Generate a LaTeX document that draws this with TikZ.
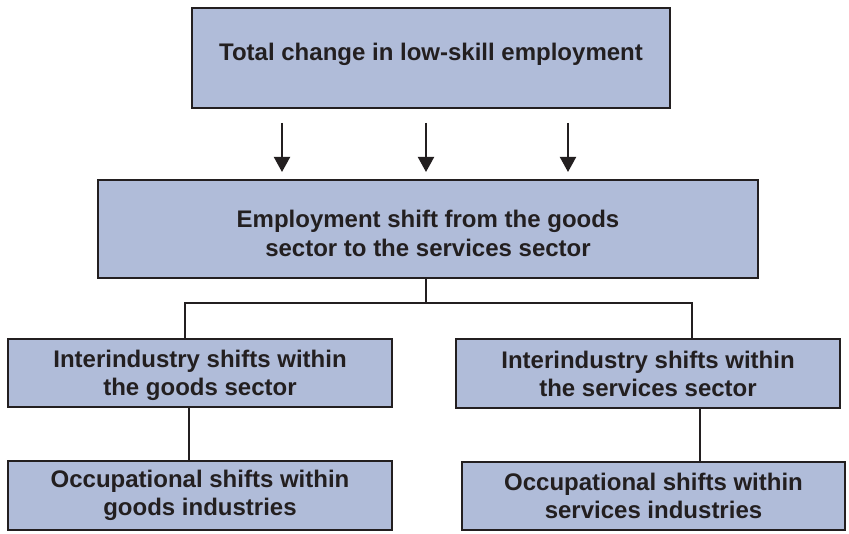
\documentclass[tikz,border=0pt]{standalone}
\usepackage{fontspec}
\setmainfont{Liberation Sans}
\usetikzlibrary{arrows.meta}
\definecolor{boxfill}{HTML}{B0BCD9}
\definecolor{ink}{HTML}{231F20}
\begin{document}
\begin{tikzpicture}[x=1pt,y=1pt,
  box/.style={draw=ink, line width=2pt, fill=boxfill, align=center,
    font=\fontsize{24}{28}\selectfont\bfseries, text=ink, inner sep=0pt},
  boxtext/.style={align=center, font=\fontsize{24}{29}\selectfont\bfseries,
    text=ink, inner sep=0pt},
  link/.style={draw=ink, line width=2pt},
  arr/.style={draw=ink, line width=2pt, -{Triangle[width=16pt,length=15pt]}}]
\useasboundingbox (0,0) rectangle (849,-534);

% boxes
\node[box, minimum width=478pt, minimum height=100pt, text depth=12pt]
  (top) at (431,-58) {Total change in low-skill employment};
\node[box, minimum width=660pt, minimum height=98pt] (mid) at (428,-229) {};
\node[boxtext] (midtext) at ([yshift=-4pt]mid.center)
  {Employment shift from the goods\\sector to the services sector};
\node[box, minimum width=384pt, minimum height=68pt, text depth=-1pt]
  (l2) at (200,-373) {Interindustry shifts within\\the goods sector};
\node[box, minimum width=384pt, minimum height=69pt]
  (r2) at (648,-373.5) {Interindustry shifts within\\the services sector};
\node[box, minimum width=384pt, minimum height=69pt]
  (l3) at (200,-495.5) {Occupational shifts within\\goods industries};
\node[box, minimum width=383pt, minimum height=68pt]
  (r3) at (653.5,-496) {Occupational shifts within\\services industries};

% arrows from the total to the sector shift
\coordinate (x1) at (282,0);
\coordinate (x2) at (426,0);
\coordinate (x3) at (568,0);
\foreach \c in {x1,x2,x3}
  \draw[arr] ([yshift=-14pt]top.south -| \c) -- ([yshift=7pt]mid.north -| \c);

% branch to the two sectors
\coordinate (jl) at (185,-303);
\coordinate (jr) at (692,-303);
\draw[link] (mid.south -| x2) -- (x2 |- jl);
\draw[link] (jl |- l2.north) -- (jl) -- (jr) -- (jr |- r2.north);

% sector to occupational shifts
\coordinate (cl) at (189,0);
\coordinate (cr) at (700,0);
\draw[link] (l2.south -| cl) -- (l3.north -| cl);
\draw[link] (r2.south -| cr) -- (r3.north -| cr);
\end{tikzpicture}
\end{document}
